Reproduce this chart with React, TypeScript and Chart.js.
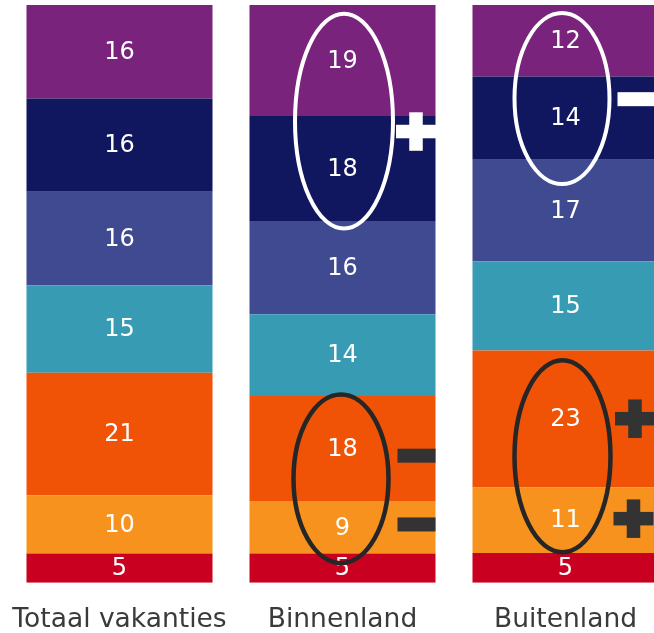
import React, { useEffect, useRef } from "react";
import { Chart, registerables } from "chart.js";

Chart.register(...registerables);

// ---- data ----
const categories = ["Totaal vakanties", "Binnenland", "Buitenland"];
const redValues = [5, 5, 5];
const lightOrangeValues = [10, 9, 11];
const orangeValues = [21, 18, 23];
const tealValues = [15, 14, 15];
const blueValues = [16, 16, 17];
const navyValues = [16, 18, 14];
const purpleValues = [16, 19, 12];

const seriesValues = [
  redValues,
  lightOrangeValues,
  orangeValues,
  tealValues,
  blueValues,
  navyValues,
  purpleValues,
];
const seriesColors = [
  "#C9001F",
  "#F7921F",
  "#F15306",
  "#379BB4",
  "#3F4A91",
  "#10175F",
  "#7A237D",
];

const FONT = "'DejaVu Sans', Verdana, sans-serif";

// annotations (ellipses and +/- marks), positioned through the scales
const ellipses = [
  { cat: 1, dx: 1.5, yCenter: 79.9, ry: 18.6, rx: 49, color: "#FFFFFF", width: 4 },
  { cat: 2, dx: -3.5, yCenter: 83.8, ry: 14.8, rx: 47.5, color: "#FFFFFF", width: 4 },
  { cat: 1, dx: -1.5, yCenter: 18.0, ry: 14.6, rx: 47.5, color: "#262626", width: 4.5 },
  { cat: 2, dx: -3, yCenter: 21.9, ry: 16.6, rx: 48, color: "#262626", width: 4.5 },
];
const signs = [
  { cat: 1, dx: 73.5, y: 78.1, type: "plus", color: "#FFFFFF" },
  { cat: 1, dx: 74, y: 22.0, type: "minus", color: "#333333" },
  { cat: 1, dx: 74, y: 10.1, type: "minus", color: "#333333" },
  { cat: 2, dx: 71, y: 83.7, type: "minus", color: "#FFFFFF" },
  { cat: 2, dx: 69.5, y: 28.4, type: "plus", color: "#333333" },
  { cat: 2, dx: 68, y: 11.1, type: "plus", color: "#333333" },
];

const totals = categories.map((_, i) =>
  seriesValues.reduce((s, arr) => s + arr[i], 0)
);

const labelPlugin = {
  id: "segmentLabels",
  afterDatasetsDraw(chart: any) {
    const ctx = chart.ctx;
    ctx.save();
    ctx.fillStyle = "#FFFFFF";
    ctx.font = `24px ${FONT}`;
    ctx.textAlign = "center";
    ctx.textBaseline = "middle";
    chart.data.datasets.forEach((ds: any, di: number) => {
      const meta = chart.getDatasetMeta(di);
      meta.data.forEach((el: any, i: number) => {
        const cy = (el.y + el.base) / 2;
        ctx.fillText(String(ds.rawValues[i]), el.x, cy + 1);
      });
    });
    ctx.restore();
  },
};

const annotationPlugin = {
  id: "annotations",
  afterDraw(chart: any) {
    const ctx = chart.ctx;
    const xs = chart.scales.x;
    const ys = chart.scales.y;
    ctx.save();
    ellipses.forEach((e) => {
      const cx = xs.getPixelForValue(e.cat) + e.dx;
      const cy = ys.getPixelForValue(e.yCenter);
      const ry = Math.abs(ys.getPixelForValue(e.yCenter + e.ry) - cy);
      ctx.beginPath();
      ctx.ellipse(cx, cy, e.rx, ry, 0, 0, Math.PI * 2);
      ctx.strokeStyle = e.color;
      ctx.lineWidth = e.width;
      ctx.stroke();
    });
    signs.forEach((s) => {
      const cx = xs.getPixelForValue(s.cat) + s.dx;
      const cy = ys.getPixelForValue(s.y);
      ctx.fillStyle = s.color;
      if (s.type === "plus") {
        ctx.fillRect(cx - 20, cy - 6.75, 40, 13.5);
        ctx.fillRect(cx - 6.75, cy - 19.25, 13.5, 38.5);
      } else {
        ctx.fillRect(cx - 19, cy - 7, 38, 14);
      }
    });
    ctx.restore();
  },
};

const TICK_PAD = 21;
const TICK_SIZE = 26.5;

export default function App() {
  const canvasRef = useRef<HTMLCanvasElement | null>(null);

  useEffect(() => {
    document.documentElement.style.overflow = "hidden";
    document.body.style.margin = "0";
    const canvas = canvasRef.current;
    if (!canvas) return;
    const chart = new Chart(canvas, {
      type: "bar",
      data: {
        labels: categories,
        datasets: seriesValues.map((vals, si) => ({
          label: `Reeks ${si + 1}`,
          data: vals.map((v, i) => (v / totals[i]) * 100),
          rawValues: vals,
          backgroundColor: seriesColors[si],
          borderWidth: 0,
          barPercentage: 1,
          categoryPercentage: 186 / 223,
        })) as any,
      },
      options: {
        animation: false,
        responsive: false,
        devicePixelRatio: 1,
        layout: { padding: 0 },
        plugins: {
          legend: { display: false },
          tooltip: { enabled: false },
          title: { display: false },
        },
        scales: {
          x: {
            stacked: true,
            grid: { display: false, drawTicks: false },
            border: { display: false },
            ticks: {
              color: "#3A3A3A",
              font: { family: FONT, size: TICK_SIZE },
              padding: TICK_PAD,
              maxRotation: 0,
              autoSkip: false,
            },
            afterFit: (s: any) => {
              s.paddingLeft = 0;
              s.paddingRight = 0;
              s.height = TICK_PAD + 26 * 1.2;
            },
          } as any,
          y: {
            stacked: true,
            display: false,
            min: 0,
            max: 100,
          },
        },
      },
      plugins: [labelPlugin, annotationPlugin],
    });
    return () => chart.destroy();
  }, []);

  return (
    <div
      style={{
        width: 646,
        height: 628,
        overflow: "hidden",
        marginLeft: 8,
        marginTop: 5,
      }}
    >
      <canvas
        ref={canvasRef}
        width={669}
        height={630}
        style={{ display: "block", width: 669, height: 630 }}
      />
    </div>
  );
}
